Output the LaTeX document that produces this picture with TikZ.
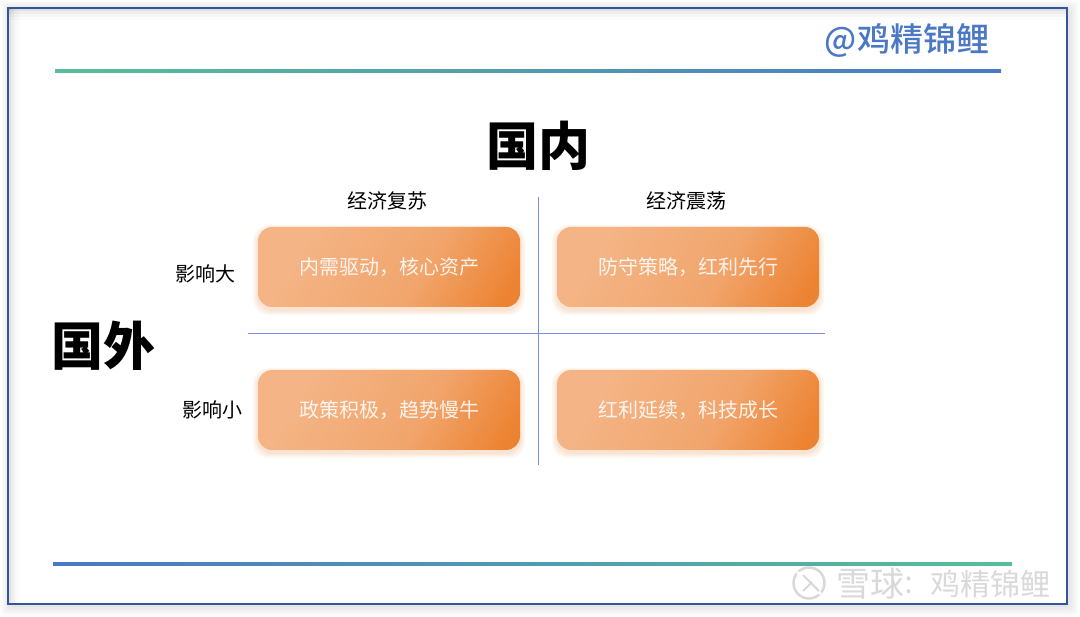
\documentclass[tikz,border=0pt]{standalone}
\usepackage{fontspec}
\setmainfont{Noto Sans CJK SC}
\newfontfamily\cjk{Noto Sans CJK SC}
\newfontfamily\cjkheavy{Noto Sans CJK SC Black}
\newfontfamily\cjkmed{Noto Sans CJK SC Medium}
\definecolor{framecol}{HTML}{34559C}
\definecolor{gridcol}{HTML}{7792D8}
\definecolor{rulegreen}{HTML}{57BF98}
\definecolor{ruleblue}{HTML}{4A78C6}
\definecolor{boxlight}{HTML}{F4B485}
\definecolor{boxmid}{HTML}{F1A56C}
\definecolor{boxdark}{HTML}{EC8332}
\pgfdeclarehorizontalshading{chipfade}{100bp}{color(0bp)=(boxlight);color(28bp)=(boxlight);color(58bp)=(boxmid);color(80bp)=(boxdark);color(100bp)=(boxdark)}
\tikzset{
  x=1pt,y=-1pt,
  framebox/.style={draw=framecol,line width=1.9pt,fill=white,outer sep=0pt},
  frameshade/.style={fill=black,fill opacity=0.02,rounded corners=3pt},
  gridline/.style={draw=gridcol,line width=0.9pt},
  chip/.style={minimum width=262pt,minimum height=80pt,rounded corners=14pt,inner sep=0pt,outer sep=0pt,
    shade,shading=chipfade,shading angle=-30,
    text=white,font=\cjk\fontsize{20}{24}\selectfont,text opacity=0.88},
  axishead/.style={font=\cjkheavy\fontsize{52}{56}\selectfont,text=black,inner sep=0pt},
  sidelabel/.style={font=\cjk\fontsize{20}{24}\selectfont,text=black,inner sep=0pt},
  brand/.style={font=\cjkmed\fontsize{33}{36}\selectfont,text=ruleblue,inner sep=0pt},
  wm/.style={text=black!15,inner sep=0pt},
}
\begin{document}
\begin{tikzpicture}
\useasboundingbox (0,0) rectangle (1080,617);
\fill[white] (0,0) rectangle (1080,617);
% frame shadow
\foreach \d in {9,7,5,3,1}{
  \fill[frameshade] (8-\d+2,8-\d+2) rectangle (1067+\d+2,604+\d+2);
}
\node[framebox,minimum width=1059pt,minimum height=596pt,inner sep=0pt,anchor=north west] (frame) at (8,8) {};
% inner shading along the frame
\foreach \d/\o in {2/0.05,5/0.035,8/0.02,11/0.012}{
  \fill[black,fill opacity=\o] (9,9) rectangle (9+\d,603);
  \fill[black,fill opacity=\o] (9,9) rectangle (1066,9+\d);
}
% rules
\coordinate (toprule) at (55,69.8);
\coordinate (botrule) at (53,562.8);
\fill[left color=rulegreen,right color=ruleblue] (toprule) rectangle (1001,72.2);
\fill[left color=ruleblue,right color=rulegreen] (botrule) rectangle (1012,565.2);
\node[brand,anchor=center] (brandname) at (907,41) {@鸡精锦鲤};
% headings
\node[axishead] (inner) at (538,146) {国内};
\node[axishead] (outer) at (103,346) {国外};
\node[sidelabel] (c1) at (387,201) {经济复苏};
\node[sidelabel] (c2) at (686,201) {经济震荡};
\node[sidelabel] (r1) at (205,274) {影响大};
\node[sidelabel] (r2) at (212,410) {影响小};
% grid
\coordinate (vt) at (538.5,197);
\coordinate (vb) at (538.5,465);
\coordinate (hl) at (248,333.5);
\coordinate (hr) at (825,333.5);
\draw[gridline] (vt) -- (vb);
\draw[gridline] (hl) -- (hr);
% box glows
\foreach \cx/\cy in {389/267,688/267,389/410,688/410}{
  \foreach \g in {10,7,4,2}{
    \fill[boxdark,fill opacity=0.06,rounded corners=16pt] (\cx-131-\g/2,\cy-40-\g/2+3) rectangle (\cx+131+\g/2,\cy+40+\g/2+3);
  }
}
\node[chip] (a) at (389,267) {内需驱动，核心资产};
\node[chip] (b) at (688,267) {防守策略，红利先行};
\node[chip] (c) at (389,410) {政策积极，趋势慢牛};
\node[chip] (d) at (688,410) {红利延续，科技成长};
% watermark
\draw[black!15,line width=2.5pt] (809,583) circle (15.5);
\draw[white,line width=3pt] (797,572) -- (821,594);
\draw[black!15,line width=2pt] (803,575) -- (819,591) (803,591) -- (812,582);
\node[wm,font=\cjk\fontsize{34}{36}\selectfont] (xq) at (870,584) {雪球};
\node[wm,font=\cjk\fontsize{26}{30}\selectfont] (colon) at (915,585) {：};
\node[wm,font=\cjk\fontsize{30}{34}\selectfont] (wmname) at (990,584) {鸡精锦鲤};
\end{tikzpicture}
\end{document}
